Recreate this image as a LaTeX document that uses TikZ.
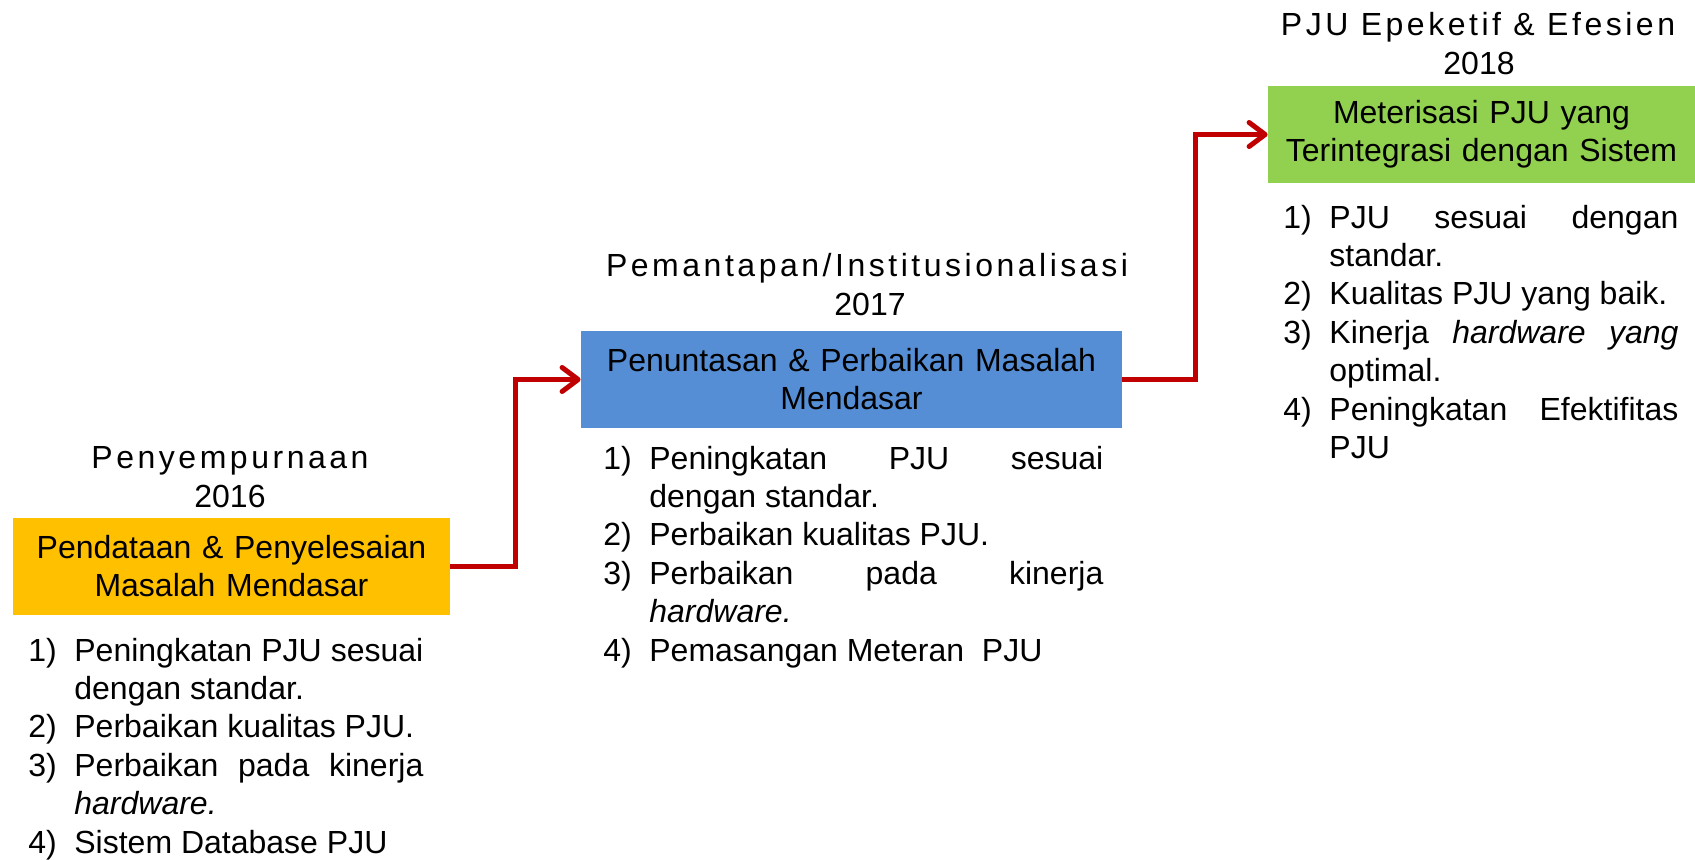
\documentclass[tikz,border=0pt]{standalone}
\usepackage{fontspec}
\setmainfont{Liberation Sans}
\newfontfamily\spaced[LetterSpace=11]{Liberation Sans}
\usepackage{xcolor}
\usetikzlibrary{arrows.meta,positioning,calc}
\definecolor{boxorange}{HTML}{FFC000}
\definecolor{boxblue}{HTML}{558ED5}
\definecolor{boxgreen}{HTML}{92D050}
\definecolor{linkred}{HTML}{C00000}
\newlength{\itemind}
\setlength{\itemind}{23pt}
\newcommand{\lstitem}[2]{\noindent\hangindent=\itemind\hangafter=1\makebox[\itemind][l]{#1}#2\par}

\begin{document}
\begin{tikzpicture}[x=0.5pt,y=-0.5pt,
	stage/.style={minimum height=48.5pt,inner sep=0pt,align=center,font=\fontsize{16}{19}\selectfont},
	title/.style={anchor=base,inner sep=0pt,font=\fontsize{16}{19}\selectfont},
	goals/.style={anchor=base west,inner sep=0pt,align=justify,font=\fontsize{16}{19.2}\selectfont},
	link/.style={linkred,line width=2.5pt,-{Straight Barb[length=8pt,width=12pt,round]}}]
	\useasboundingbox (0,0) rectangle (1695,859);
	% tahapan
	\node[stage,fill=boxorange,minimum width=218.5pt,text width=210pt] (b1) at (231.5,566.5) {Pendataan \& Penyelesaian\\Masalah Mendasar};
	\node[stage,fill=boxblue,minimum width=270.5pt,text width=262pt] (b2) at (851.5,379.5) {Penuntasan \& Perbaikan Masalah\\Mendasar};
	\node[stage,fill=boxgreen,minimum width=213.5pt,text width=205pt] (b3) at (1481.5,134.5) {Meterisasi PJU yang\\Terintegrasi dengan Sistem};
	% judul
	\node[title] (t1a) at (230,468) {\spaced Penyempurnaan};
	\node[title] (t1b) at (230,507) {2016};
	\node[title] (t2a) at (867,276) {\spaced Pemantapan/Institusionalisasi};
	\node[title] (t2b) at (870,315) {2017};
	\node[title] (t3a) at (1478,35) {\spaced PJU Epeketif \& Efesien};
	\node[title] (t3b) at (1479,74) {2018};
	% sasaran
	\node[goals,text width=197.5pt] (g1) at (28,661) {
		\lstitem{1)}{Peningkatan PJU sesuai\linebreak dengan standar.}
		\lstitem{2)}{Perbaikan kualitas PJU.}
		\lstitem{3)}{Perbaikan pada kinerja\linebreak \textit{hardware.}}
		\lstitem{4)}{Sistem Database PJU}};
	\node[goals,text width=250pt] (g2) at (603,469) {
		\lstitem{1)}{Peningkatan PJU sesuai\linebreak dengan standar.}
		\lstitem{2)}{Perbaikan kualitas PJU.}
		\lstitem{3)}{Perbaikan pada kinerja\linebreak \textit{hardware.}}
		\lstitem{4)}{Pemasangan Meteran~ PJU}};
	\node[goals,text width=197.5pt] (g3) at (1283,228) {
		\lstitem{1)}{PJU sesuai dengan\linebreak standar.}
		\lstitem{2)}{Kualitas PJU yang baik.}
		\lstitem{3)}{Kinerja \textit{hardware yang}\linebreak optimal.}
		\lstitem{4)}{Peningkatan Efektifitas\linebreak PJU}};
	% panah
	\draw[link] (b1.east) -- ($(b1.east)!.5!(b2.west |- b1.east)$) |- (b2.west);
	\draw[link] (b2.east) -- ($(b2.east)!.5!(b3.west |- b2.east)$) |- (b3.west);
\end{tikzpicture}
\end{document}
